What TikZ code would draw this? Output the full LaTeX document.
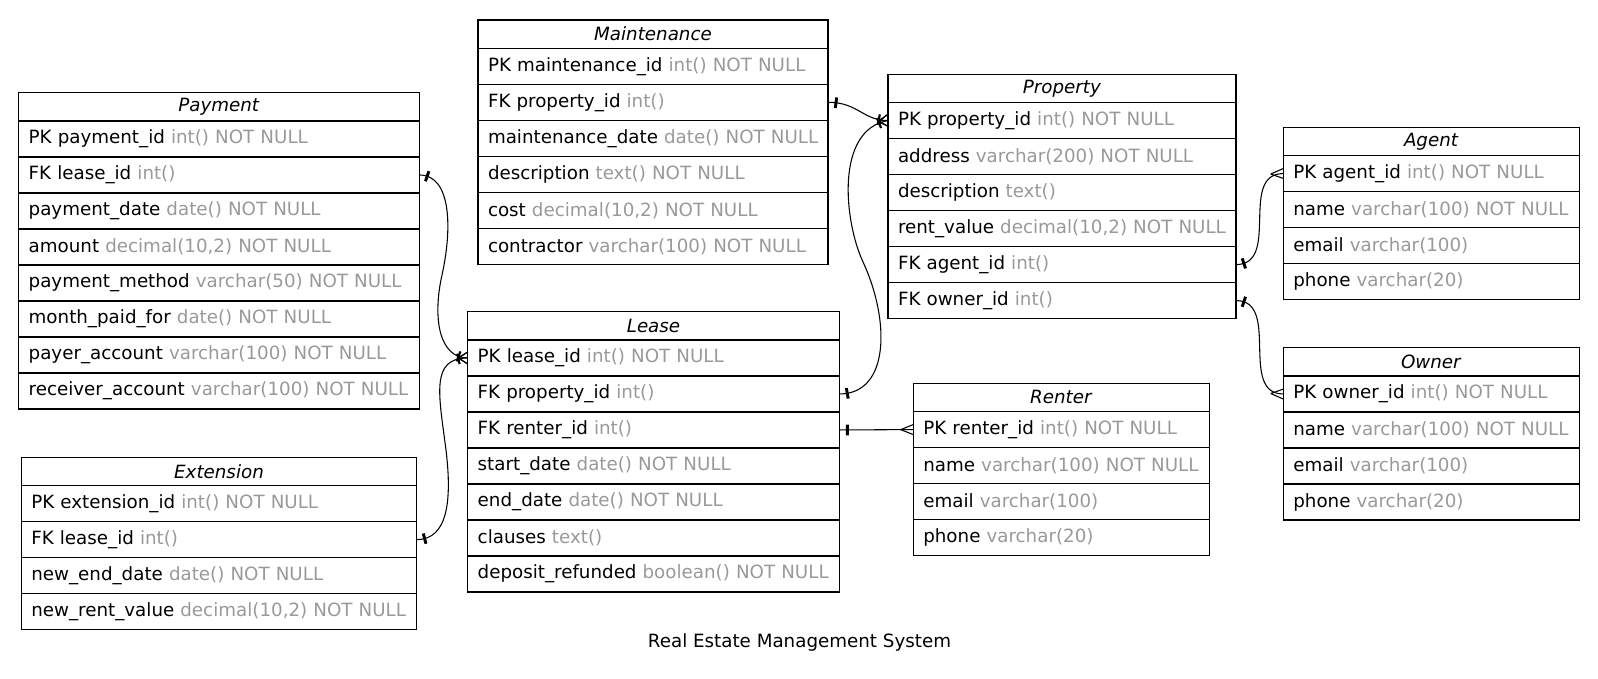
\documentclass[tikz,border=0pt]{standalone}
\usepackage{fontspec}
\setmainfont{DejaVu Sans}
\usepackage{tikz}
\usetikzlibrary{positioning}
\usetikzlibrary{decorations.markings}

\definecolor{typegray}{RGB}{153,153,153}

\tikzset{
	tabhead/.style={draw, line width=0.9pt, outer sep=0pt, inner sep=0pt, minimum height=21.2pt, anchor=north west},
	field/.style={draw, line width=0.9pt, outer sep=0pt, inner xsep=7.5pt, inner ysep=0pt, minimum height=27pt, align=left, text width=#1}
}

% #1 name, #2 title, #3 north west corner, #4 width, #5 text width, #6 rows
\newcommand{\erdtable}[6]{%
	\node[tabhead, minimum width=#4, alias=#1-0] (#1) at #3 {\textit{#2}};
	\foreach \fname/\ftype [count=\i] in {#6} {
		\pgfmathtruncatemacro{\j}{\i-1}
		\node[field=#5, below=0pt of #1-\j] (#1-\i) {\mbox{\fname\ \textcolor{typegray}{\ftype}}};
	}
}

\begin{document}
\begin{tikzpicture}[x=0.75pt, y=-0.75pt, font=\fontsize{13.7pt}{16pt}\selectfont]
\useasboundingbox (0,0) rectangle (1598,678);

\erdtable{mnt}{Maintenance}{(478,20)}{262.5pt}{247.5pt}{PK maintenance\_id/int() NOT NULL, FK property\_id/int(), maintenance\_date/date() NOT NULL, description/text() NOT NULL, cost/{decimal(10,2) NOT NULL}, contractor/varchar(100) NOT NULL}

\erdtable{pay}{Payment}{(18.7,92.7)}{300.45pt}{285.45pt}{PK payment\_id/int() NOT NULL, FK lease\_id/int(), payment\_date/date() NOT NULL, amount/{decimal(10,2) NOT NULL}, payment\_method/varchar(50) NOT NULL, month\_paid\_for/date() NOT NULL, payer\_account/varchar(100) NOT NULL, receiver\_account/varchar(100) NOT NULL}

\erdtable{ext}{Extension}{(21.3,457.3)}{296.55pt}{281.55pt}{PK extension\_id/int() NOT NULL, FK lease\_id/int(), new\_end\_date/date() NOT NULL, new\_rent\_value/{decimal(10,2) NOT NULL}}

\erdtable{lease}{Lease}{(467.7,311.7)}{278.7pt}{263.7pt}{PK lease\_id/int() NOT NULL, FK property\_id/int(), FK renter\_id/int(), start\_date/date() NOT NULL, end\_date/date() NOT NULL, clauses/text(), deposit\_refunded/boolean() NOT NULL}

\erdtable{prop}{Property}{(888,74.3)}{261pt}{246pt}{PK property\_id/int() NOT NULL, address/varchar(200) NOT NULL, description/text(), rent\_value/{decimal(10,2) NOT NULL}, FK agent\_id/int(), FK owner\_id/int()}

\erdtable{renter}{Renter}{(913.3,383.3)}{222pt}{207pt}{PK renter\_id/int() NOT NULL, name/varchar(100) NOT NULL, email/varchar(100), phone/varchar(20)}

\erdtable{agent}{Agent}{(1283.3,127.3)}{222pt}{207pt}{PK agent\_id/int() NOT NULL, name/varchar(100) NOT NULL, email/varchar(100), phone/varchar(20)}

\erdtable{owner}{Owner}{(1283.3,347.7)}{222pt}{207pt}{PK owner\_id/int() NOT NULL, name/varchar(100) NOT NULL, email/varchar(100), phone/varchar(20)}

\coordinate (bend-pl) at (863,262);
\coordinate (bend-pay) at (442,275);
\coordinate (bend-ext) at (446,450);

% one or many
\begin{scope}[line width=0.8pt, decoration={
	markings,
	mark=at position 6pt with {\draw[line width=2.2pt] (0pt,-4pt) -- (0pt,4pt);},
	mark=at position -7pt with {\draw[line width=1.6pt] (0pt,-4pt) -- (0pt,4pt);},
	mark=at position -1pt with {\draw (-6pt,0pt) -- (1pt,4.5pt) (-6pt,0pt) -- (1pt,-4.5pt);}}
	]
\draw [postaction={decorate}] (mnt-2.east) .. controls +(30,0) and +(-25,0) .. (prop-1.west);
\draw [postaction={decorate}] (lease-2.east) .. controls +(50.7,0) and +(27,58) .. (bend-pl) .. controls +(-19,-41) and +(-53,9.3) .. (prop-1.west);
\draw [postaction={decorate}] (pay-2.east) .. controls +(32.7,0) and +(10,-45) .. (bend-pay) .. controls +(-10,45) and +(-27.7,0) .. (lease-1.west);
\draw [postaction={decorate}] (ext-2.east) .. controls +(31.3,0) and +(6,50) .. (bend-ext) .. controls +(-7,-55) and +(-37.7,0) .. (lease-1.west);
\end{scope}

% many
\begin{scope}[line width=0.8pt, decoration={
	markings,
	mark=at position 6pt with {\draw[line width=2.2pt] (0pt,-4pt) -- (0pt,4pt);},
	mark=at position -1pt with {\draw (-8.5pt,0pt) -- (1pt,3.75pt) (-8.5pt,0pt) -- (1pt,-3.75pt);}}
	]
\draw [postaction={decorate}] (lease-3.east) -- (renter-1.west);
\draw [postaction={decorate}] (prop-5.east) .. controls +(45,0) and +(-45,0) .. (agent-1.west);
\draw [postaction={decorate}] (prop-6.east) .. controls +(45,0) and +(-45,0) .. (owner-1.west);
\end{scope}

\node (caption) at (799.5,642.7) {Real Estate Management System};

\end{tikzpicture}
\end{document}
